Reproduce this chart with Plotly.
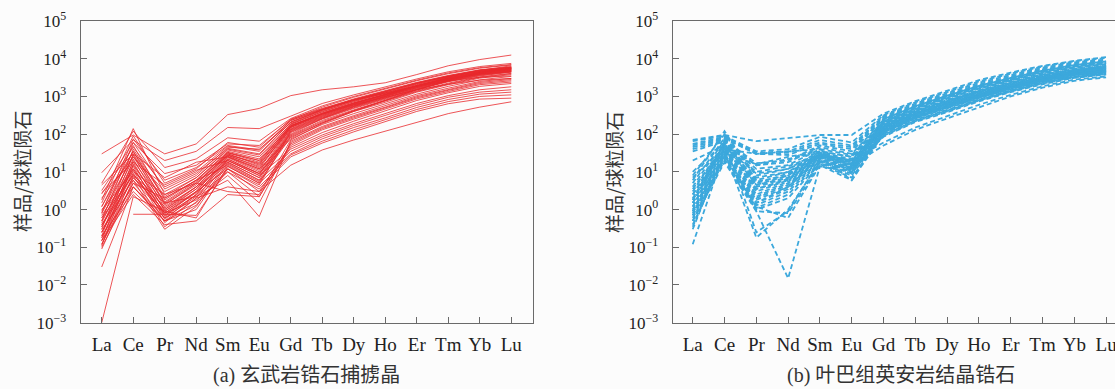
import plotly.graph_objects as go

elements = ["La", "Ce", "Pr", "Nd", "Sm", "Eu", "Gd", "Tb", "Dy", "Ho", "Er", "Tm", "Yb", "Lu"]

# (a) basalt zircon xenocrysts, chondrite-normalised REE
a01 = [30, 95, 30, 55, 330, 480, 1050, 1500, 1800, 2300, 3800, 6500, 9500, 12500]
a02 = [9.5, 70, 20, 35, 150, 140, 300, 650, 1100, 1800, 2900, 4500, 6200, 7500]
a03 = [5, 120, 13, 22, 80, 65, 260, 560, 1000, 1650, 2700, 4200, 5800, 7000]
a04 = [3.2, 60, 9, 15, 55, 50, 240, 520, 950, 1550, 2600, 4000, 5600, 6800]
a05 = [2.6, 45, 4, 10, 48, 35, 230, 450, 780, 1200, 1850, 2600, 3200, 3500]
a06 = [1.8, 140, 2.5, 7, 40, 28, 210, 450, 830, 1380, 2300, 3500, 5000, 6000]
a07 = [1.2, 50, 1.8, 6, 35, 22, 190, 420, 780, 1300, 2200, 3400, 4800, 5800]
a08 = [0.9, 35, 1.4, 4.5, 32, 18, 180, 400, 740, 1250, 2100, 3300, 4600, 5600]
a09 = [0.6, 28, 1.1, 4, 30, 15, 170, 340, 600, 950, 1500, 2100, 2700, 3000]
a10 = [0.45, 22, 0.9, 3.5, 28, 13, 160, 360, 670, 1150, 1950, 3100, 4400, 5400]
a11 = [0.35, 18, 0.7, 3, 26, 12, 155, 340, 640, 1100, 1900, 3000, 4300, 5200]
a12 = [0.25, 14, 0.55, 2.5, 24, 10, 150, 330, 620, 1050, 1850, 2900, 4200, 5100]
a13 = [0.18, 11, 0.45, 2, 22, 9, 140, 310, 590, 1000, 1750, 2800, 4000, 4900]
a14 = [0.12, 8, 0.35, 1.6, 20, 8, 130, 290, 560, 960, 1700, 2700, 3900, 4800]
a15 = [0.09, 6, 0.3, 1.2, 18, 7, 125, 280, 540, 920, 1650, 2600, 3800, 4700]
a16 = [0.03, 4, 0.5, 1.0, 16, 6, 120, 270, 520, 900, 1600, 2550, 3700, 4600]
a17 = [0.001, 2.2, 0.9, 0.6, 14, 5, 115, 260, 500, 870, 1550, 2500, 3600, 4500]
a18 = [None, 0.75, 0.75, 0.7, 12, 4.5, 110, 250, 480, 840, 1500, 2450, 3500, 4400]
a19 = [2.0, 25, 3, 8, 45, 40, 200, 440, 810, 1350, 2250, 3450, 4900, 5900]
a20 = [1.5, 90, 5, 12, 60, 45, 250, 480, 820, 1250, 1950, 2900, 3900, 4500]
a21 = [0.8, 75, 6, 13, 50, 38, 230, 470, 860, 1400, 2350, 3600, 5100, 6100]
a22 = [0.5, 60, 3.5, 9, 42, 30, 210, 430, 790, 1320, 2200, 3400, 4700, 5700]
a23 = [0.3, 40, 2.2, 7, 38, 25, 185, 390, 720, 1220, 2050, 3250, 4550, 5500]
a24 = [0.2, 30, 1.6, 5.5, 33, 20, 165, 350, 660, 1130, 1900, 3050, 4350, 5300]
a25 = [0.15, 20, 1.3, 5, 30, 16, 150, 320, 610, 1050, 1800, 2850, 4100, 5000]
a26 = [0.11, 16, 1.0, 4, 27, 14, 135, 300, 570, 980, 1720, 2750, 3950, 4850]
a27 = [0.7, 12, 0.8, 3, 25, 11, 100, 260, 540, 1000, 1900, 3200, 4900, 6500]
a28 = [0.4, 9, 0.65, 2.5, 22, 9, 95, 230, 440, 770, 1400, 2250, 3300, 4100]
a29 = [0.25, 7, 1.2, 4, 18, 7, 90, 215, 420, 740, 1350, 2150, 3200, 4000]
a30 = [0.15, 5, 2.0, 6, 15, 5.5, 85, 200, 400, 700, 1300, 2050, 3050, 3800]
a31 = [4.5, 30, 7, 18, 25, 12, 80, 200, 420, 800, 1500, 2600, 4100, 5500]
a32 = [2.8, 18, 4.5, 11, 20, 9, 75, 180, 350, 620, 1150, 1850, 2750, 3400]
a33 = [1.0, 10, 2.5, 5, 3, 2.5, 70, 190, 400, 780, 1500, 2700, 4400, 6000]
a34 = [0.6, 8, 1.5, 2.2, 6, 0.65, 65, 160, 310, 560, 1050, 1650, 2500, 3000]
a35 = [0.4, 6, 0.8, 1.8, 8, 1.5, 60, 150, 290, 520, 980, 1550, 2350, 2800]
a36 = [0.3, 4, 0.6, 1.5, 10, 2.2, 55, 140, 270, 490, 920, 1450, 2200, 2600]
a37 = [0.2, 3, 0.5, 1.3, 12, 3, 50, 130, 250, 460, 860, 1350, 2050, 2400]
a38 = [0.15, 2.5, 0.4, 0.5, 2.5, 2.2, 45, 110, 220, 410, 780, 1250, 1850, 2200]
a39 = [0.5, 15, 1.0, 3.5, 20, 8, 40, 95, 190, 350, 650, 1050, 1500, 1800]
a40 = [0.35, 12, 0.8, 2.8, 17, 6, 35, 85, 170, 310, 580, 950, 1300, 1500]
a41 = [0.25, 9, 0.7, 2.4, 14, 5, 30, 75, 150, 270, 510, 830, 1150, 1300]
a42 = [0.18, 7, 0.9, 3, 12, 4, 28, 65, 130, 240, 450, 730, 1000, 1100]
a43 = [0.12, 5, 0.6, 2.2, 10, 3.5, 25, 58, 115, 210, 400, 640, 850, 900]
a44 = [0.1, 4, 0.5, 2, 4, 3, 15, 38, 70, 120, 210, 350, 520, 720]
a45 = [1.2, 35, 2, 6, 32, 20, 170, 370, 680, 1150, 1950, 3100, 4400, 5400]
a46 = [0.8, 25, 1.5, 5, 28, 17, 160, 350, 650, 1100, 1880, 3000, 4250, 5200]

panel_a = [a01, a02, a03, a04, a05, a06, a07, a08, a09, a10, a11, a12, a13, a14, a15, a16,
           a17, a18, a19, a20, a21, a22, a23, a24, a25, a26, a27, a28, a29, a30, a31, a32,
           a33, a34, a35, a36, a37, a38, a39, a40, a41, a42, a43, a44, a45, a46]

# (b) Yeba Formation dacite magmatic zircons
b01 = [70, 95, 65, 80, 95, 95, 350, 750, 1400, 2700, 4300, 6500, 8800, 11000]
b02 = [65, 90, 35, 40, 85, 60, 320, 700, 1300, 2500, 4000, 6200, 8500, 10500]
b03 = [55, 85, 32, 35, 70, 50, 300, 650, 1200, 2300, 3700, 5800, 8000, 9500]
b04 = [50, 80, 30, 32, 60, 45, 280, 600, 1100, 2100, 3400, 5400, 7500, 9000]
b05 = [45, 75, 30, 28, 55, 40, 260, 560, 1050, 1950, 3200, 5100, 7100, 8500]
b06 = [40, 70, 17, 20, 50, 35, 250, 530, 1000, 1850, 3000, 4800, 6700, 8000]
b07 = [35, 65, 15, 18, 45, 30, 230, 500, 950, 1750, 2850, 4500, 6300, 7500]
b08 = [10, 60, 12, 15, 40, 28, 220, 470, 900, 1650, 2700, 4300, 6000, 7200]
b09 = [8, 100, 8, 12, 35, 25, 200, 420, 760, 1300, 2100, 3200, 4300, 5000]
b10 = [6, 120, 6, 10, 32, 22, 190, 420, 800, 1450, 2400, 3800, 5300, 6500]
b11 = [5, 80, 5, 9, 30, 20, 180, 400, 760, 1400, 2300, 3600, 5100, 6200]
b12 = [4, 70, 4.5, 8, 28, 18, 170, 380, 720, 1320, 2200, 3450, 4900, 6000]
b13 = [3, 60, 4, 7, 27, 17, 160, 360, 690, 1250, 2100, 3300, 4700, 5800]
b14 = [2.5, 55, 3.5, 6.5, 26, 16, 155, 350, 660, 1200, 2000, 3200, 4600, 5600]
b15 = [2, 50, 3, 6, 25, 15, 150, 340, 640, 1150, 1950, 3100, 4450, 5400]
b16 = [1.8, 45, 2.5, 5.5, 24, 14, 145, 330, 620, 1120, 1900, 3000, 4300, 5200]
b17 = [1.5, 40, 2.2, 5, 23, 13, 140, 320, 600, 1080, 1850, 2900, 4200, 5000]
b18 = [1.2, 35, 2, 4.5, 22, 12, 135, 310, 580, 1050, 1800, 2850, 4100, 4900]
b19 = [1.0, 30, 1.8, 4, 21, 11, 130, 300, 560, 1020, 1750, 2800, 4000, 4800]
b20 = [0.9, 28, 1.5, 3.5, 20, 10, 125, 290, 540, 990, 1700, 2700, 3900, 4700]
b21 = [0.8, 25, 1.3, 3, 19, 9.5, 120, 280, 520, 960, 1650, 2650, 3800, 4600]
b22 = [0.7, 22, 1.1, 2.5, 18, 9, 115, 270, 500, 930, 1600, 2600, 3700, 4500]
b23 = [0.6, 20, 1.0, 2, 17, 8, 110, 260, 480, 900, 1550, 2500, 3600, 4400]
b24 = [0.5, 18, 0.9, 0.8, 16, 7, 105, 270, 540, 1050, 1900, 3200, 4800, 6000]
b25 = [0.4, 25, 1.2, 0.6, 15, 6, 100, 240, 440, 840, 1450, 2400, 3400, 4200]
b26 = [0.3, 40, 0.9, 0.015, 14, 10, 95, 230, 420, 800, 1400, 2300, 3300, 4000]
b27 = [0.12, 35, 0.18, 1.0, 18, 12, 90, 220, 400, 780, 1350, 2200, 3200, 3900]
b28 = [1.5, 60, 0.25, 0.9, 20, 13, 85, 210, 380, 740, 1300, 2100, 3100, 3800]
b29 = [3.5, 50, 10, 14, 30, 15, 50, 130, 260, 520, 1000, 1700, 2600, 3200]
b30 = [7, 45, 9, 12, 28, 20, 60, 150, 300, 600, 1100, 1850, 2800, 3400]
b31 = [2.5, 40, 7, 10, 26, 18, 140, 330, 620, 1150, 1950, 3100, 4500, 5500]
b32 = [1.8, 65, 5.5, 8, 35, 25, 200, 450, 860, 1600, 2600, 4000, 5700, 6900]
b33 = [1.2, 55, 4.5, 7, 30, 20, 180, 410, 780, 1450, 2400, 3750, 5300, 6400]
b34 = [0.9, 45, 3.5, 6, 28, 18, 165, 380, 720, 1350, 2250, 3550, 5000, 6100]
b35 = [0.7, 40, 30, 35, 40, 15, 250, 550, 1050, 1900, 3100, 4800, 6800, 8500]
b36 = [0.5, 30, 16, 25, 35, 12, 230, 520, 1000, 1800, 3000, 4600, 6500, 8000]
b37 = [20, 50, 15, 22, 32, 10, 210, 480, 930, 1700, 2800, 4400, 6200, 7600]
b38 = [0.35, 30, 1.5, 4, 25, 6, 120, 280, 540, 1000, 1700, 2700, 3900, 4800]

panel_b = [b01, b02, b03, b04, b05, b06, b07, b08, b09, b10, b11, b12, b13, b14, b15, b16,
           b17, b18, b19, b20, b21, b22, b23, b24, b25, b26, b27, b28, b29, b30, b31, b32,
           b33, b34, b35, b36, b37, b38]

y_tickvals = [1e-3, 1e-2, 1e-1, 1, 10, 100, 1e3, 1e4, 1e5]
y_ticktext = ["10<sup>\u22123</sup>", "10<sup>\u22122</sup>", "10<sup>\u22121</sup>", "10<sup>0</sup>",
              "10<sup>1</sup>", "10<sup>2</sup>", "10<sup>3</sup>", "10<sup>4</sup>", "10<sup>5</sup>"]
y_title = "样品/球粒陨石"
title_a = "(a) 玄武岩锆石捕掳晶"
title_b = "(b) 叶巴组英安岩结晶锆石"

RED = "#e8282c"
BLUE = "#3ca8dc"
AXC = "#6a6a6a"
SERIF = "Liberation Serif"
CJK = "Noto Sans CJK SC"

W, H = 1115, 389
fig = go.Figure()
for s in panel_a:
    fig.add_trace(go.Scatter(x=elements, y=s, mode="lines", xaxis="x", yaxis="y",
                             line=dict(color=RED, width=0.8), showlegend=False, hoverinfo="skip"))
for s in panel_b:
    fig.add_trace(go.Scatter(x=elements, y=s, mode="lines", xaxis="x2", yaxis="y2",
                             line=dict(color=BLUE, width=1.8, dash="5px,3px"), showlegend=False,
                             hoverinfo="skip"))

def xax(domain, rng, anchor):
    return dict(domain=domain, anchor=anchor, type="category", categoryarray=elements,
                range=rng, showgrid=False, zeroline=False, showline=True, linecolor=AXC,
                linewidth=1.2, mirror=True, ticks="inside", ticklen=6, tickcolor=AXC,
                tickwidth=1, tickfont=dict(family=SERIF, size=19, color="#222"),
                ticklabelstandoff=4, automargin=False)

def yax(domain, anchor, mirror):
    return dict(domain=domain, anchor=anchor, type="log", range=[-3, 5],
                tickvals=y_tickvals, ticktext=y_ticktext, showgrid=False, zeroline=False,
                showline=True, linecolor=AXC, linewidth=1.2, mirror=mirror, ticks="inside",
                ticklen=6, tickcolor=AXC, tickwidth=1,
                tickfont=dict(family=SERIF, size=17, color="#222"), ticklabelstandoff=10,
                automargin=False)

ydom = [1 - 322.7 / H, 1 - 21 / H]
fig.update_layout(
    width=W, height=H, margin=dict(l=0, r=0, t=0, b=0, autoexpand=False),
    paper_bgcolor="#fcfcfc", plot_bgcolor="#fcfcfc",
    xaxis=xax([80.7 / W, 533 / W], [-0.667, 13.69], "y"),
    yaxis=yax(ydom, "x", True),
    xaxis2=xax([672.7 / W, 1.0], [-0.63, 13.28], "y2"),
    yaxis2=yax(ydom, "x2", False),
    annotations=[
        dict(text=y_title, x=22 / W, y=1 - 172 / H, xref="paper", yref="paper", textangle=-90,
             showarrow=False, font=dict(family=CJK, size=19, color="#333"),
             xanchor="center", yanchor="middle"),
        dict(text=y_title, x=614 / W, y=1 - 172 / H, xref="paper", yref="paper", textangle=-90,
             showarrow=False, font=dict(family=CJK, size=19, color="#333"),
             xanchor="center", yanchor="middle"),
        dict(text=title_a, x=307 / W, y=1 - 375 / H, xref="paper", yref="paper",
             showarrow=False, font=dict(family=SERIF + ", " + CJK, size=20, color="#333"),
             xanchor="center", yanchor="middle"),
        dict(text=title_b, x=901 / W, y=1 - 375 / H, xref="paper", yref="paper",
             showarrow=False, font=dict(family=SERIF + ", " + CJK, size=20, color="#333"),
             xanchor="center", yanchor="middle"),
    ],
)

fig.write_html("out.html")
